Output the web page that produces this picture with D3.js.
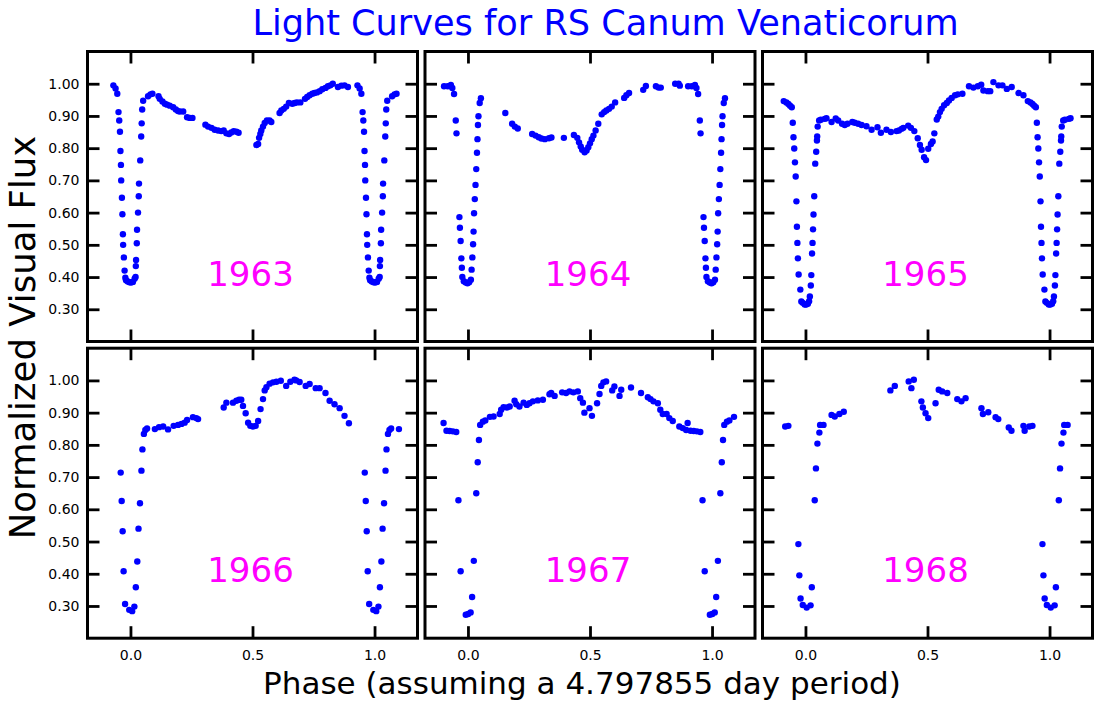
<!DOCTYPE html>
<html>
<head>
<meta charset="utf-8">
<script src="https://cdn.jsdelivr.net/npm/d3@7"></script>
<style>
  html, body { margin: 0; padding: 0; background: #fff; }
  svg { display: block; font-family: "DejaVu Sans", sans-serif; }
</style>
</head>
<body>
<svg id="chart" width="1100" height="715"></svg>
<script>
// ---- Data: [phase, normalized flux], phase in [0,1) ----
const years = ["1963", "1964", "1965", "1966", "1967", "1968"];

const obs1963 = [
 [0.003,0.383],[0.010,0.385],[0.017,0.395],[0.021,0.400],[0.022,0.434],[0.023,0.453],[0.026,0.505],[0.027,0.547],[0.031,0.600],[0.034,0.651],[0.035,0.690],[0.040,0.762],[0.044,0.836],[0.046,0.877],[0.048,0.920],[0.052,0.947],[0.072,0.961],[0.082,0.967],[0.090,0.969],
 [0.115,0.961],[0.120,0.953],[0.131,0.945],[0.141,0.938],[0.150,0.935],[0.161,0.932],[0.175,0.927],[0.186,0.920],[0.195,0.915],[0.202,0.914],[0.216,0.914],[0.232,0.896],[0.243,0.894],[0.254,0.894],[0.307,0.873],[0.318,0.867],[0.332,0.863],[0.345,0.857],[0.359,0.855],[0.372,0.853],[0.382,0.855],[0.393,0.846],[0.404,0.844],[0.413,0.849],[0.423,0.853],[0.434,0.851],[0.443,0.848],
 [0.516,0.810],[0.523,0.813],[0.527,0.832],[0.532,0.844],[0.536,0.855],[0.543,0.867],[0.550,0.878],[0.559,0.886],[0.570,0.886],[0.577,0.881],
 [0.611,0.909],[0.618,0.917],[0.628,0.922],[0.638,0.929],[0.649,0.940],[0.663,0.938],[0.673,0.940],[0.682,0.942],[0.696,0.942],[0.715,0.953],[0.724,0.959],[0.734,0.964],[0.745,0.969],[0.754,0.971],[0.764,0.973],[0.775,0.977],[0.786,0.983],[0.799,0.987],[0.809,0.992],[0.819,0.995],[0.829,1.000],[0.850,0.990],[0.864,0.994],[0.877,0.995],[0.891,0.990],
 [0.930,0.995],[0.939,0.985],[0.946,0.969],[0.951,0.912],[0.954,0.886],[0.957,0.851],[0.959,0.791],[0.961,0.748],[0.962,0.700],[0.965,0.646],[0.967,0.595],[0.969,0.533],[0.970,0.500],[0.973,0.461],[0.976,0.420],[0.979,0.398],[0.982,0.390],[0.989,0.386],[0.996,0.384]
];

const obs1964 = [
 [0.005,0.384],[0.012,0.392],[0.015,0.423],[0.018,0.461],[0.021,0.502],[0.023,0.541],[0.025,0.598],[0.028,0.642],[0.031,0.686],[0.034,0.735],[0.037,0.786],[0.039,0.828],[0.041,0.872],[0.043,0.899],[0.048,0.940],[0.053,0.955],
 [0.153,0.909],[0.181,0.876],[0.192,0.867],[0.204,0.861],[0.263,0.844],[0.277,0.839],[0.290,0.834],[0.301,0.830],[0.315,0.828],[0.332,0.831],[0.342,0.833],[0.393,0.832],[0.434,0.841],[0.448,0.832],[0.455,0.818],[0.462,0.805],[0.468,0.795],[0.478,0.787],[0.486,0.793],[0.493,0.803],[0.500,0.815],[0.507,0.828],[0.514,0.839],[0.523,0.855],[0.534,0.876],[0.548,0.905],[0.558,0.912],[0.567,0.917],[0.578,0.922],[0.589,0.929],[0.603,0.942],[0.640,0.956],[0.649,0.964],[0.660,0.971],[0.718,0.981],[0.729,0.993],[0.770,0.992],[0.781,0.988],[0.790,0.988],[0.849,1.000],[0.863,1.000],[0.868,0.994],
 [0.902,0.992],[0.917,0.992],[0.930,0.996],[0.936,0.987],[0.943,0.968],[0.950,0.886],[0.953,0.846],[0.965,0.586],[0.967,0.553],[0.970,0.512],[0.973,0.458],[0.975,0.429],[0.977,0.400],[0.983,0.387],[0.991,0.383],[0.998,0.381]
];

const obs1965 = [
 [0.003,0.315],[0.010,0.317],[0.015,0.325],[0.018,0.340],[0.022,0.374],[0.024,0.406],[0.027,0.473],[0.029,0.506],[0.031,0.548],[0.033,0.594],[0.036,0.651],[0.040,0.752],[0.044,0.789],[0.047,0.824],[0.048,0.836],[0.050,0.867],[0.056,0.886],[0.063,0.888],[0.079,0.891],[0.086,0.893],
 [0.107,0.881],[0.124,0.892],[0.134,0.886],[0.150,0.876],[0.161,0.872],[0.172,0.876],[0.192,0.881],[0.202,0.879],[0.216,0.876],[0.230,0.872],[0.250,0.868],[0.271,0.857],[0.295,0.865],[0.309,0.848],[0.332,0.857],[0.350,0.850],[0.373,0.853],[0.383,0.855],[0.394,0.860],[0.401,0.863],[0.421,0.870],[0.432,0.863],[0.446,0.853],[0.460,0.831],[0.469,0.810],[0.476,0.795],[0.486,0.772],[0.494,0.763],[0.503,0.798],[0.514,0.813],[0.521,0.821],[0.528,0.846],[0.538,0.889],[0.544,0.898],[0.551,0.912],[0.558,0.922],[0.568,0.933],[0.579,0.940],[0.588,0.948],[0.599,0.956],[0.613,0.964],[0.624,0.967],[0.643,0.969],[0.670,0.992],[0.688,0.988],[0.706,0.992],[0.720,0.997],[0.729,0.979],[0.747,0.977],[0.757,0.977],[0.770,1.005],[0.791,0.995],[0.807,0.995],[0.825,0.984],[0.845,0.990],[0.873,0.971],[0.893,0.964],
 [0.911,0.946],[0.922,0.942],[0.930,0.937],[0.937,0.932],[0.944,0.927],[0.948,0.879],[0.951,0.834],[0.954,0.799],[0.957,0.756],[0.960,0.712],[0.963,0.635],[0.965,0.556],[0.967,0.506],[0.969,0.458],[0.972,0.408],[0.979,0.361],[0.983,0.324],[0.989,0.320],[0.997,0.315]
];

const obs1966 = [
 [0.007,0.284],[0.016,0.298],[0.022,0.358],[0.028,0.438],[0.033,0.540],[0.039,0.619],[0.045,0.720],[0.049,0.786],[0.055,0.834],[0.061,0.846],[0.068,0.851],[0.100,0.849],
 [0.117,0.855],[0.134,0.857],[0.154,0.848],[0.177,0.859],[0.195,0.862],[0.209,0.865],[0.222,0.869],[0.232,0.877],[0.256,0.886],[0.270,0.883],[0.277,0.880],[0.382,0.916],[0.393,0.931],[0.420,0.931],[0.434,0.937],[0.445,0.940],[0.454,0.940],[0.461,0.921],[0.472,0.898],[0.482,0.869],[0.491,0.859],[0.502,0.857],[0.513,0.859],[0.523,0.874],[0.533,0.911],[0.543,0.942],[0.550,0.969],[0.557,0.979],[0.570,0.990],[0.584,0.994],[0.598,0.996],[0.616,0.999],[0.638,0.983],[0.655,0.996],[0.672,1.002],[0.679,1.000],[0.693,0.995],[0.718,0.983],[0.734,0.989],[0.759,0.976],[0.775,0.976],[0.799,0.961],[0.816,0.937],[0.836,0.926],[0.857,0.914],[0.877,0.890],[0.895,0.867],
 [0.960,0.714],[0.964,0.626],[0.968,0.532],[0.972,0.408],[0.978,0.306],[0.995,0.288]
];

const obs1967 = [
 [0.001,0.275],[0.011,0.280],[0.017,0.328],[0.024,0.440],[0.034,0.650],[0.040,0.746],[0.045,0.815],[0.050,0.862],[0.061,0.872],[0.071,0.876],[0.090,0.887],
 [0.105,0.888],[0.130,0.896],[0.136,0.909],[0.146,0.917],[0.160,0.916],[0.171,0.919],[0.191,0.937],[0.198,0.926],[0.211,0.919],[0.228,0.931],[0.241,0.924],[0.252,0.929],[0.266,0.935],[0.286,0.938],[0.307,0.940],[0.334,0.957],[0.341,0.961],[0.355,0.952],[0.386,0.963],[0.402,0.961],[0.416,0.966],[0.432,0.963],[0.450,0.966],[0.460,0.945],[0.471,0.931],[0.477,0.900],[0.498,0.914],[0.508,0.890],[0.529,0.929],[0.539,0.958],[0.546,0.983],[0.555,0.994],[0.566,0.997],[0.591,0.969],[0.600,0.981],[0.621,0.952],[0.628,0.971],[0.668,0.978],[0.709,0.961],[0.737,0.948],[0.748,0.942],[0.760,0.935],[0.778,0.929],[0.788,0.909],[0.798,0.896],[0.814,0.896],[0.825,0.883],[0.839,0.874],[0.866,0.857],[0.880,0.852],[0.894,0.846],
 [0.900,0.868],[0.912,0.844],[0.925,0.843],[0.938,0.842],[0.952,0.840],[0.961,0.628],[0.970,0.408],[0.991,0.273]
];

const obs1968 = [
 [0.005,0.295],[0.021,0.302],[0.026,0.358],[0.038,0.628],[0.043,0.727],[0.049,0.804],[0.057,0.838],[0.060,0.862],[0.074,0.862],
 [0.107,0.893],[0.120,0.888],[0.139,0.896],[0.157,0.903],[0.348,0.969],[0.366,0.983],[0.423,0.997],[0.434,0.976],[0.444,1.002],[0.475,0.935],[0.481,0.916],[0.492,0.898],[0.503,0.883],[0.533,0.929],[0.546,0.971],[0.560,0.966],[0.581,0.961],[0.622,0.942],[0.639,0.935],[0.656,0.945],[0.721,0.914],[0.727,0.896],[0.749,0.901],[0.779,0.886],[0.790,0.880],[0.833,0.854],[0.844,0.844],[0.893,0.859],[0.898,0.844],
 [0.917,0.857],[0.930,0.859],[0.971,0.492],[0.975,0.395],[0.980,0.323],[0.989,0.303]
];

const observations = [obs1963, obs1964, obs1965, obs1966, obs1967, obs1968];

const xTicks = [0.0, 0.5, 1.0];
const xTickLabels = ["0.0", "0.5", "1.0"];
const yTicks = [0.30, 0.40, 0.50, 0.60, 0.70, 0.80, 0.90, 1.00];
const yTickLabels = ["0.30", "0.40", "0.50", "0.60", "0.70", "0.80", "0.90", "1.00"];

const titleText = "Light Curves for RS Canum Venaticorum";
const xLabelText = "Phase (assuming a 4.797855 day period)";
const yLabelText = "Normalized Visual Flux";

// ---- Layout ----
const svg = d3.select("#chart");
const panelW = 330, panelH = 290;
const colX = [87.5, 425, 762.5];
const rowY = [51.5, 348.2];
const xDomain = [-0.176, 1.176];
const yDomain = [0.2, 1.1];
const tickLen = 12;

// Extend each light curve by one period on either side inside the window [-0.1, 1.1]
function wrapPhases(obs) {
  const out = [];
  obs.forEach(([p, f]) => {
    out.push([p, f]);
    if (p - 1 >= -0.1 - 1e-9) out.push([p - 1, f]);
    if (p + 1 <= 1.1 + 1e-9) out.push([p + 1, f]);
  });
  return out;
}

years.forEach((yr, i) => {
  const col = i % 3, row = Math.floor(i / 3);
  const x0 = colX[col], y0 = rowY[row];
  const x = d3.scaleLinear().domain(xDomain).range([0, panelW]);
  const y = d3.scaleLinear().domain(yDomain).range([panelH, 0]);
  const g = svg.append("g").attr("transform", `translate(${x0},${y0})`);

  // points
  g.append("g").selectAll("circle")
    .data(wrapPhases(observations[i]))
    .join("circle")
    .attr("cx", d => x(d[0]))
    .attr("cy", d => y(d[1]))
    .attr("r", 3.2)
    .attr("fill", "#0000ff");

  // year label
  g.append("text")
    .attr("x", x(0.5))
    .attr("dx", -2)
    .attr("y", y(0.4))
    .attr("dy", 8.5)
    .attr("text-anchor", "middle")
    .attr("font-size", 34)
    .attr("fill", "#ff00ff")
    .text(yr);

  // axes with inward ticks
  const left = d3.axisLeft(y).tickValues(yTicks).tickSizeInner(-tickLen).tickSizeOuter(0).tickPadding(8)
    .tickFormat((d, k) => col === 0 ? yTickLabels[k] : "");
  const right = d3.axisRight(y).tickValues(yTicks).tickSizeInner(-tickLen).tickSizeOuter(0).tickFormat("");
  const bottom = d3.axisBottom(x).tickValues(xTicks).tickSizeInner(-tickLen).tickSizeOuter(0).tickPadding(12)
    .tickFormat((d, k) => row === 1 ? xTickLabels[k] : "");
  const top = d3.axisTop(x).tickValues(xTicks).tickSizeInner(-tickLen).tickSizeOuter(0).tickFormat("");

  const styleAxis = sel => {
    sel.select(".domain").remove();
    sel.selectAll(".tick line").attr("stroke", "#000").attr("stroke-width", 2.8);
    sel.selectAll(".tick text").attr("font-family", "DejaVu Sans").attr("font-size", 14).attr("fill", "#000");
  };
  g.append("g").call(left).call(styleAxis);
  g.append("g").attr("transform", `translate(${panelW},0)`).call(right).call(styleAxis);
  g.append("g").attr("transform", `translate(0,${panelH})`).call(bottom).call(styleAxis);
  g.append("g").call(top).call(styleAxis);

  // frame
  g.append("rect")
    .attr("x", 0).attr("y", 0)
    .attr("width", panelW).attr("height", panelH)
    .attr("fill", "none").attr("stroke", "#000").attr("stroke-width", 3);
});

// Title
svg.append("text")
  .attr("x", 605.5).attr("y", 35)
  .attr("text-anchor", "middle")
  .attr("font-size", 35.1)
  .attr("fill", "#0000ff")
  .text(titleText);

// X label
svg.append("text")
  .attr("x", 582).attr("y", 694)
  .attr("text-anchor", "middle")
  .attr("font-size", 31)
  .attr("fill", "#000")
  .text(xLabelText);

// Y label
svg.append("text")
  .attr("transform", "translate(35,337.5) rotate(-90)")
  .attr("text-anchor", "middle")
  .attr("font-size", 35.5)
  .attr("fill", "#000")
  .text(yLabelText);
</script>
</body>
</html>
